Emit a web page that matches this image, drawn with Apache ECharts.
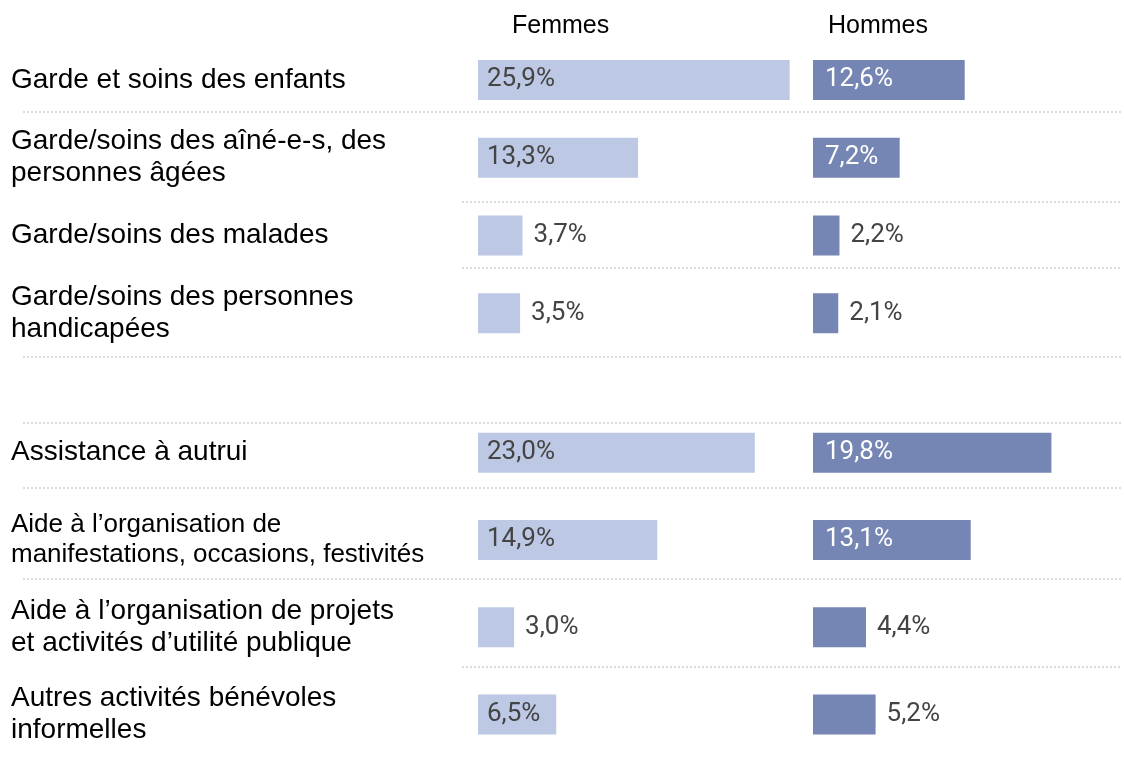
<!DOCTYPE html>
<html>
<head>
<meta charset="utf-8">
<script src="https://cdn.jsdelivr.net/npm/echarts@6/dist/echarts.min.js"></script>
<style>
  html, body { margin: 0; padding: 0; background: #fff; }
  #chart-container { width: 1124px; height: 762px; }
</style>
</head>
<body>
<div id="chart-container"></div>
<script>
var categoriesTop = [
  'Garde et soins des enfants',
  'Garde/soins des aîné-e-s, des\npersonnes âgées',
  'Garde/soins des malades',
  'Garde/soins des personnes\nhandicapées'
];
var categoriesBottom = [
  'Assistance à autrui',
  'Aide à l’organisation de\nmanifestations, occasions, festivités',
  'Aide à l’organisation de projets\net activités d’utilité publique',
  'Autres activités bénévoles\ninformelles'
];
var femmesTop = [25.9, 13.3, 3.7, 3.5];
var hommesTop = [12.6, 7.2, 2.2, 2.1];
var femmesBottom = [23.0, 14.9, 3.0, 6.5];
var hommesBottom = [19.8, 13.1, 4.4, 5.2];
var columnNames = ['Femmes', 'Hommes'];

var chartDom = document.getElementById('chart-container');
var myChart = echarts.init(chartDom);

var colorF = '#bdc8e4';
var colorH = '#7686b4';
var labelFont = 'Liberation Sans, Arial, sans-serif';
var valueFont = 'Roboto, sans-serif';

function fmt(v) {
  return v.toFixed(1).replace('.', ',') + '%';
}

// bars long enough get the label inside, the others outside
function barData(values, insideColor, insideDist) {
  return values.map(function (v) {
    var inside = v >= 6;
    return {
      value: v,
      label: inside
        ? { position: 'insideLeft', distance: insideDist, color: insideColor }
        : { position: 'right', distance: 11, color: '#444' }
    };
  });
}

function catData(list) {
  return list.map(function (c) {
    if (c.indexOf('manifestations') >= 0) {
      return {
        value: c,
        textStyle: {
          align: 'left', color: '#000', fontFamily: labelFont,
          fontSize: 26, lineHeight: 30
        }
      };
    }
    return c;
  });
}

var grids = [
  { left: 478, top: 41, width: 361, height: 311 },
  { left: 813, top: 41, width: 301, height: 311 },
  { left: 478, top: 409, width: 361, height: 349 },
  { left: 813, top: 409, width: 301, height: 349 }
].map(function (g) {
  g.outerBoundsMode = 'none';
  g.containLabel = false;
  return g;
});

var xAxes = [30, 25, 30, 25].map(function (m, i) {
  return { type: 'value', gridIndex: i, min: 0, max: m, show: false };
});

var yAxes = [categoriesTop, categoriesTop, categoriesBottom, categoriesBottom].map(function (cats, i) {
  return {
    type: 'category',
    gridIndex: i,
    position: 'left',
    inverse: true,
    data: catData(cats),
    axisLine: { show: false },
    axisTick: { show: false },
    splitLine: { show: false },
    axisLabel: {
      show: i % 2 === 0,
      align: 'left',
      margin: 467,
      color: '#000',
      fontFamily: labelFont,
      fontSize: 28,
      lineHeight: 32
    }
  };
});

function barSeries(idx, values, color, insideColor, insideDist) {
  return {
    type: 'bar',
    xAxisIndex: idx,
    yAxisIndex: idx,
    barWidth: 40,
    itemStyle: { color: color },
    label: {
      show: true,
      fontFamily: valueFont,
      fontSize: 26,
      formatter: function (p) { return fmt(p.value); }
    },
    data: barData(values, insideColor, insideDist),
    silent: true
  };
}

// dotted separators
var seps = [
  [23, 112], [462, 202], [462, 268], [23, 357],
  [23, 423], [23, 488], [23, 579], [462, 667]
];
var graphics = seps.map(function (s) {
  return {
    type: 'line',
    shape: { x1: s[0], y1: s[1], x2: 1122, y2: s[1] },
    style: { stroke: '#dcdcdc', lineWidth: 2, lineDash: [2, 2] },
    silent: true
  };
});
graphics.push({
  type: 'text', left: 512, top: 14,
  style: { text: columnNames[0], font: '25px ' + labelFont, fill: '#000' }
});
graphics.push({
  type: 'text', left: 828, top: 14,
  style: { text: columnNames[1], font: '25px ' + labelFont, fill: '#000' }
});

option = {
  animation: false,
  grid: grids,
  xAxis: xAxes,
  yAxis: yAxes,
  graphic: graphics,
  series: [
    barSeries(0, femmesTop, colorF, '#444', 9),
    barSeries(1, hommesTop, colorH, '#fff', 12),
    barSeries(2, femmesBottom, colorF, '#444', 9),
    barSeries(3, hommesBottom, colorH, '#fff', 12)
  ]
};

option && myChart.setOption(option);
</script>
</body>
</html>
